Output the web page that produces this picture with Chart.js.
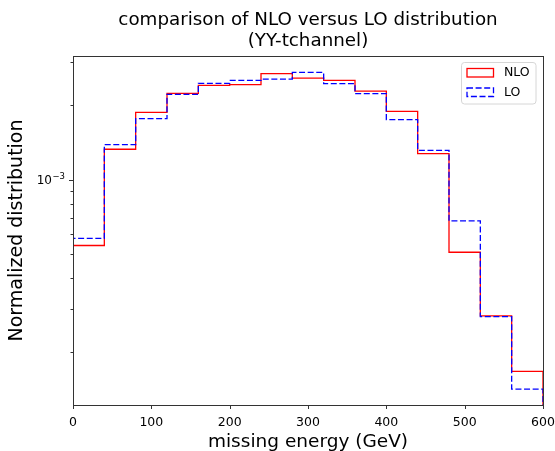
<!DOCTYPE html>
<html>
<head>
<meta charset="utf-8">
<script src="https://cdn.jsdelivr.net/npm/chart.js@4"></script>
<style>
html,body{margin:0;padding:0;background:#fff;}
canvas{display:block;}
</style>
</head>
<body>
<canvas id="c" width="555" height="451"></canvas>
<script>
// ---- data ----
const binEdges = [0, 40, 80, 120, 160, 200, 240, 280, 320, 360, 400, 440, 480, 520, 560, 600];
const nloValues = [5.41e-4, 1.326e-3, 1.870e-3, 2.232e-3, 2.404e-3, 2.420e-3, 2.681e-3, 2.573e-3, 2.519e-3, 2.280e-3, 1.888e-3, 1.274e-3, 5.08e-4, 2.81e-4, 1.675e-4];
const loValues  = [5.78e-4, 1.385e-3, 1.764e-3, 2.211e-3, 2.449e-3, 2.518e-3, 2.550e-3, 2.714e-3, 2.443e-3, 2.226e-3, 1.747e-3, 1.313e-3, 6.80e-4, 2.79e-4, 1.42e-4];
const seriesLabels = ['NLO', 'LO'];
const xTickValues = [0, 100, 200, 300, 400, 500, 600];
const yMajorTicks = [1e-3];
const yMajorLabels = [['10', '\u22123']];
const yMinorTicks = [2e-4, 3e-4, 4e-4, 5e-4, 6e-4, 7e-4, 8e-4, 9e-4, 2e-3, 3e-3];
const titleLines = ['comparison of NLO versus LO distribution', '(YY-tchannel)'];
const xTitle = 'missing energy (GeV)';
const yTitle = 'Normalized distribution';
const Y_MIN = 1.225e-4, Y_MAX = 3.16e-3;
const FLOOR = 1e-6;

function stepPoints(vals) {
  const pts = [{x: binEdges[0], y: FLOOR}];
  for (let i = 0; i < vals.length; i++) pts.push({x: binEdges[i], y: vals[i]});
  const last = binEdges[binEdges.length - 1];
  pts.push({x: last, y: vals[vals.length - 1]});
  pts.push({x: last, y: FLOOR});
  return pts;
}

const FONT = '"DejaVu Sans", sans-serif';

const decorPlugin = {
  id: 'decor',
  afterDraw(chart) {
    const ctx = chart.ctx;
    const a = chart.chartArea;
    const xs = chart.scales.x, ys = chart.scales.y;
    ctx.save();
    // title
    ctx.fillStyle = '#000';
    ctx.font = '18.3px ' + FONT;
    ctx.textAlign = 'center';
    ctx.textBaseline = 'alphabetic';
    const cx = (a.left + a.right) / 2;
    ctx.fillText(titleLines[0], cx, 25);
    ctx.fillText(titleLines[1], cx, 46);
    // frame
    ctx.strokeStyle = '#333';
    ctx.lineWidth = 1;
    ctx.strokeRect(Math.round(a.left) + 0.5, Math.round(a.top) + 0.5, Math.round(a.right - a.left), Math.round(a.bottom - a.top));
    // ticks
    ctx.beginPath();
    xTickValues.forEach(v => {
      const px = Math.round(xs.getPixelForValue(v)) + 0.5;
      ctx.moveTo(px, a.bottom); ctx.lineTo(px, a.bottom + 4);
    });
    yMajorTicks.forEach(v => {
      const py = Math.round(ys.getPixelForValue(v)) + 0.5;
      ctx.moveTo(a.left, py); ctx.lineTo(a.left - 4, py);
    });
    yMinorTicks.forEach(v => {
      const py = Math.round(ys.getPixelForValue(v)) + 0.5;
      ctx.moveTo(a.left, py); ctx.lineTo(a.left - 2.5, py);
    });
    ctx.stroke();
    // y major labels (10^-3)
    yMajorTicks.forEach((v, i) => {
      const py = ys.getPixelForValue(v);
      const [base, exp] = yMajorLabels[i];
      ctx.fillStyle = '#000';
      ctx.textBaseline = 'alphabetic';
      ctx.textAlign = 'left';
      ctx.font = '8.5px ' + FONT;
      const ew = ctx.measureText(exp).width;
      ctx.font = '12px ' + FONT;
      const bw = ctx.measureText(base).width;
      const right = a.left - 8;
      ctx.fillText(base, right - ew - bw - 0.5, py + 4.5);
      ctx.font = '8.5px ' + FONT;
      ctx.fillText(exp, right - ew, py - 1);
    });
    // legend
    const lx = 461.5, ly = 62.5, lw = 74.5, lh = 41.5, r = 3;
    ctx.beginPath();
    ctx.moveTo(lx + r, ly); ctx.lineTo(lx + lw - r, ly); ctx.arcTo(lx + lw, ly, lx + lw, ly + r, r);
    ctx.lineTo(lx + lw, ly + lh - r); ctx.arcTo(lx + lw, ly + lh, lx + lw - r, ly + lh, r);
    ctx.lineTo(lx + r, ly + lh); ctx.arcTo(lx, ly + lh, lx, ly + lh - r, r);
    ctx.lineTo(lx, ly + r); ctx.arcTo(lx, ly, lx + r, ly, r);
    ctx.closePath();
    ctx.fillStyle = 'rgba(255,255,255,0.8)';
    ctx.fill();
    ctx.strokeStyle = '#d6d6d6';
    ctx.lineWidth = 1;
    ctx.stroke();
    const dsets = chart.data.datasets;
    const rows = [72.5, 92];
    dsets.forEach((ds, i) => {
      ctx.strokeStyle = ds.borderColor;
      ctx.lineWidth = 1.3;
      ctx.setLineDash(ds.borderDash || []);
      ctx.strokeRect(467, rows[i] - 4, 26.5, 8.5);
      ctx.setLineDash([]);
      ctx.fillStyle = '#000';
      ctx.font = '12.5px ' + FONT;
      ctx.textAlign = 'left';
      ctx.textBaseline = 'middle';
      ctx.fillText(ds.label, 504, rows[i] + 0.5);
    });
    ctx.restore();
  }
};

new Chart(document.getElementById('c'), {
  type: 'line',
  data: {
    datasets: [
      {label: seriesLabels[0], data: stepPoints(nloValues), borderColor: '#ff0000', borderWidth: 1.3, stepped: 'before', pointRadius: 0, fill: false, order: 1},
      {label: seriesLabels[1], data: stepPoints(loValues), borderColor: '#0000ff', borderWidth: 1.3, borderDash: [6, 2.6], stepped: 'before', pointRadius: 0, fill: false, order: 0}
    ]
  },
  options: {
    responsive: false,
    animation: false,
    layout: {padding: {top: 56, right: 12, left: 0, bottom: 0}},
    plugins: {legend: {display: false}, title: {display: false}, tooltip: {enabled: false}},
    scales: {
      x: {
        type: 'linear', min: 0, max: 600,
        grid: {display: false}, border: {display: false},
        afterBuildTicks: s => { s.ticks = xTickValues.map(v => ({value: v})); },
        ticks: {color: '#000', font: {family: FONT, size: 12.5}, padding: 2, maxRotation: 0},
        title: {display: true, text: xTitle, color: '#000', font: {family: FONT, size: 18.5}, padding: {top: 0, bottom: -2}},
        afterFit: s => { s.height = 46; s.paddingLeft = 0; s.paddingRight = 0; }
      },
      y: {
        type: 'logarithmic', min: Y_MIN, max: Y_MAX,
        grid: {display: false}, border: {display: false},
        afterBuildTicks: s => { s.ticks = yMajorTicks.map(v => ({value: v})); },
        ticks: {display: false},
        title: {display: true, text: yTitle, color: '#000', font: {family: FONT, size: 19}, padding: {top: 6, bottom: 0}},
        afterFit: s => { s.width = 73; s.paddingTop = 0; s.paddingBottom = 0; }
      }
    }
  },
  plugins: [decorPlugin]
});
</script>
</body>
</html>
